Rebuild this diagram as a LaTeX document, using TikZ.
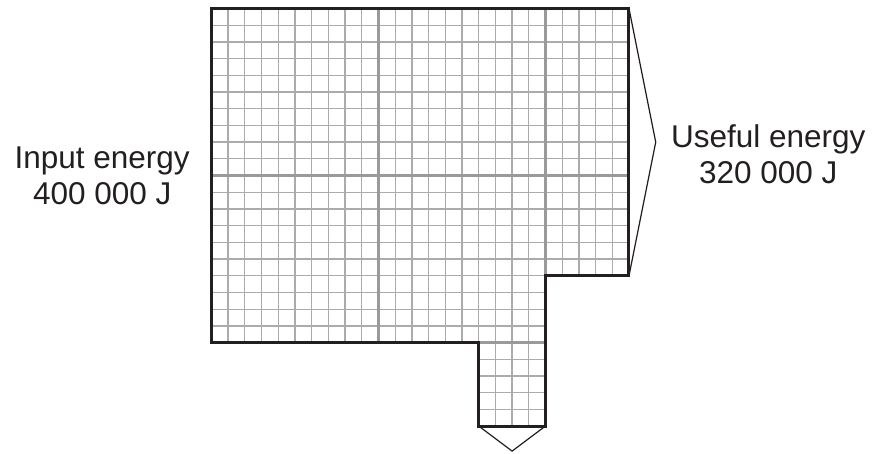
\documentclass[tikz,border=0pt]{standalone}
\usepackage{fontspec}
\setmainfont{Liberation Sans}
\usepackage{tikz}
\definecolor{SankeyInk}{HTML}{231F20}
\definecolor{SankeyGrid}{HTML}{ABABAD}
\definecolor{SankeyMajor}{HTML}{9A9A9C}
\tikzset{
    gridminor/.style={SankeyGrid,line width=1.3pt},
    gridmajor/.style={SankeyMajor,line width=2.6pt},
    outline/.style={SankeyInk,line width=3pt,line join=miter},
    wedge/.style={SankeyInk,line width=1.2pt,line join=miter},
    energylabel/.style={text=SankeyInk,align=center,font=\fontsize{31.5}{36}\selectfont,inner sep=0pt}
}

\begin{document}
\begin{tikzpicture}[x=16.7pt,y=16.7pt]
    \useasboundingbox (-12.66,-6.62) rectangle (39.73,20.51);
    \draw[gridminor,step=1] (0,0) grid (20,20);
    \draw[gridminor,step=1] (20,4) grid (25,20);
    \draw[gridminor,step=1] (16,-5) grid (20,0);
    \foreach \x in {10,20} {
      \draw[gridmajor] (\x,0) -- (\x,20);
    }
    \draw[gridmajor] (0,10) -- (25,10);
    \draw[gridmajor] (16,0) -- (20,0);
    \draw[outline] (0,20) -- (25,20) -- (25,4) -- (20,4) -- (20,-5) -- (16,-5) -- (16,0) -- (0,0) -- cycle;
    \draw[wedge] (25,20) -- (26.6,12) -- (25,4);
    \draw[wedge] (16,-5) -- (18,-6.5) -- (20,-5);
    \node[energylabel] (input) at (-6.54,10.0) {Input energy\\400 000 J};
    \node[energylabel] (useful) at (33.34,11.3) {Useful energy\\320 000 J};
  \end{tikzpicture}
\end{document}
